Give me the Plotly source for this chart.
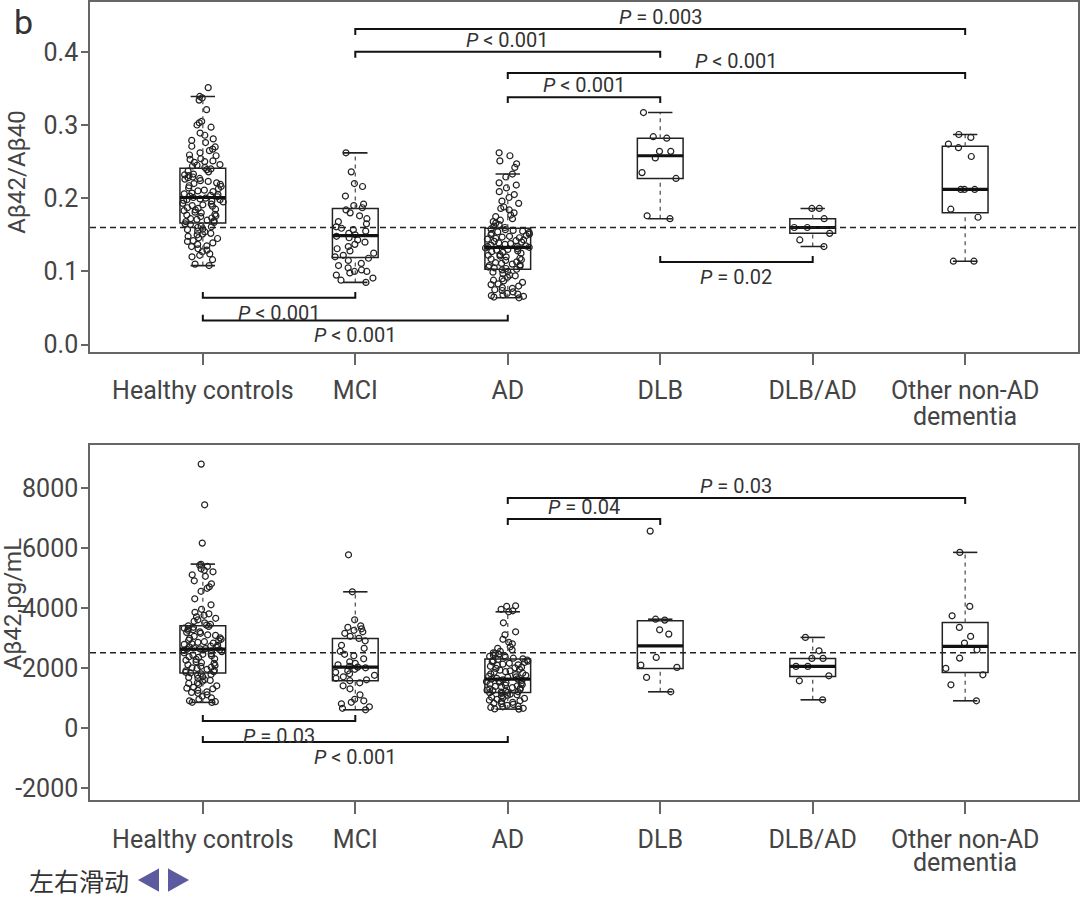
import plotly.graph_objects as go

# ---------------- data ----------------
groups = ["Healthy controls", "MCI", "AD", "DLB", "DLB/AD", "Other non-AD"]
group_second_line = ["", "", "", "", "", "dementia"]

# Panel 1: Abeta42/Abeta40 ratio -- box statistics
ratio_q1 = [0.166, 0.119, 0.103, 0.227, 0.152, 0.180]
ratio_med = [0.201, 0.149, 0.133, 0.258, 0.160, 0.212]
ratio_q3 = [0.241, 0.186, 0.159, 0.282, 0.172, 0.271]
ratio_lo = [0.108, 0.085, 0.064, 0.172, 0.134, 0.114]
ratio_hi = [0.339, 0.262, 0.233, 0.317, 0.186, 0.287]

ratio_hc = [0.351, 0.339, 0.337, 0.334, 0.321, 0.305, 0.303, 0.300, 0.297, 0.289, 0.286, 0.281, 0.279, 0.276,
            0.271, 0.270, 0.267, 0.265, 0.262, 0.259, 0.258, 0.254, 0.253, 0.251, 0.250, 0.249, 0.246, 0.245,
            0.244, 0.242, 0.240, 0.239, 0.237, 0.236, 0.233, 0.232, 0.231, 0.229, 0.228, 0.227, 0.226, 0.224,
            0.223, 0.221, 0.220, 0.219, 0.217, 0.216, 0.214, 0.213, 0.211, 0.210, 0.209, 0.207, 0.206, 0.205,
            0.204, 0.203, 0.202, 0.201, 0.200, 0.199, 0.198, 0.198, 0.197, 0.196, 0.195, 0.193, 0.192, 0.191,
            0.190, 0.189, 0.187, 0.186, 0.185, 0.184, 0.183, 0.181, 0.180, 0.178, 0.177, 0.176, 0.175, 0.173,
            0.172, 0.171, 0.170, 0.169, 0.168, 0.167, 0.165, 0.164, 0.162, 0.161, 0.160, 0.158, 0.157, 0.155,
            0.154, 0.152, 0.151, 0.150, 0.148, 0.146, 0.145, 0.142, 0.141, 0.139, 0.137, 0.135, 0.134, 0.131,
            0.129, 0.127, 0.124, 0.122, 0.120, 0.116, 0.110, 0.108]
ratio_mci = [0.262, 0.236, 0.220, 0.216, 0.203, 0.192, 0.190, 0.187, 0.184, 0.180, 0.176, 0.172, 0.168, 0.165,
             0.161, 0.159, 0.157, 0.155, 0.152, 0.150, 0.148, 0.146, 0.143, 0.140, 0.137, 0.134, 0.131, 0.128,
             0.125, 0.122, 0.120, 0.118, 0.115, 0.111, 0.108, 0.105, 0.102, 0.100, 0.100, 0.098, 0.095, 0.091,
             0.088, 0.085]
ratio_ad = [0.262, 0.258, 0.251, 0.247, 0.242, 0.233, 0.229, 0.221, 0.218, 0.214, 0.209, 0.205, 0.201, 0.196,
            0.193, 0.188, 0.186, 0.184, 0.180, 0.177, 0.175, 0.172, 0.170, 0.168, 0.166, 0.164, 0.162, 0.160,
            0.158, 0.157, 0.156, 0.155, 0.154, 0.153, 0.152, 0.151, 0.150, 0.149, 0.148, 0.147, 0.146, 0.145,
            0.144, 0.143, 0.142, 0.141, 0.140, 0.139, 0.138, 0.137, 0.136, 0.135, 0.134, 0.134, 0.133, 0.132,
            0.131, 0.130, 0.129, 0.128, 0.127, 0.126, 0.125, 0.123, 0.122, 0.121, 0.120, 0.118, 0.117, 0.116,
            0.115, 0.113, 0.112, 0.111, 0.110, 0.109, 0.108, 0.107, 0.106, 0.105, 0.104, 0.103, 0.102, 0.100,
            0.099, 0.097, 0.095, 0.094, 0.092, 0.090, 0.088, 0.087, 0.085, 0.083, 0.082, 0.080, 0.078, 0.077,
            0.075, 0.074, 0.072, 0.070, 0.069, 0.068, 0.067, 0.066, 0.065, 0.064]
ratio_dlb = [0.317, 0.284, 0.282, 0.264, 0.264, 0.255, 0.235, 0.227, 0.176, 0.172]
ratio_dlbad = [0.186, 0.186, 0.172, 0.160, 0.160, 0.152, 0.143, 0.134]
ratio_other = [0.287, 0.283, 0.274, 0.269, 0.257, 0.212, 0.212, 0.212, 0.185, 0.174, 0.114, 0.114]
ratio_points = [ratio_hc, ratio_mci, ratio_ad, ratio_dlb, ratio_dlbad, ratio_other]
ratio_cutoff = 0.16

# Panel 2: Abeta42 pg/mL
ab_q1 = [1823, 1567, 1180, 1980, 1713, 1847]
ab_med = [2623, 2023, 1623, 2733, 2047, 2713]
ab_q3 = [3400, 2980, 2290, 3567, 2313, 3513]
ab_lo = [847, 600, 623, 1200, 933, 900]
ab_hi = [5457, 4533, 3867, 3620, 3013, 5847]

ab_hc = [8790, 7433, 6157, 5450, 5420, 5380, 5300, 5250, 5200, 5100, 5050, 4900, 4800, 4700, 4650, 4550,
         4300, 4100, 3950, 3850, 3800, 3750, 3700, 3650, 3600, 3550, 3500, 3450, 3420, 3400, 3380, 3350,
         3320, 3300, 3270, 3250, 3200, 3180, 3150, 3100, 3080, 3050, 3000, 2980, 2950, 2920, 2900, 2870,
         2850, 2820, 2800, 2780, 2750, 2720, 2700, 2680, 2660, 2640, 2630, 2620, 2600, 2580, 2560, 2540,
         2500, 2470, 2450, 2420, 2400, 2370, 2350, 2300, 2280, 2250, 2200, 2170, 2150, 2100, 2080, 2050,
         2020, 2000, 1980, 1950, 1920, 1900, 1870, 1850, 1830, 1800, 1780, 1750, 1700, 1680, 1650, 1600,
         1580, 1550, 1500, 1480, 1450, 1400, 1350, 1320, 1300, 1250, 1200, 1180, 1150, 1100, 1050, 1000,
         950, 900, 870, 850, 847]
ab_mci = [5767, 4533, 3600, 3400, 3350, 3300, 3250, 3200, 3150, 3050, 2980, 2900, 2750, 2650, 2550, 2450,
          2400, 2300, 2200, 2150, 2100, 2050, 2023, 2000, 1950, 1900, 1850, 1800, 1750, 1700, 1650, 1600,
          1570, 1500, 1400, 1300, 1100, 950, 900, 850, 800, 700, 650, 600]
ab_ad = [4067, 4050, 3950, 3900, 3867, 3500, 3200, 3100, 2950, 2850, 2800, 2700, 2650, 2600, 2550, 2500,
         2480, 2450, 2420, 2400, 2380, 2350, 2320, 2300, 2280, 2260, 2240, 2220, 2200, 2180, 2150, 2120,
         2100, 2080, 2050, 2020, 2000, 1980, 1950, 1920, 1900, 1870, 1850, 1820, 1800, 1770, 1750, 1720,
         1700, 1680, 1650, 1630, 1620, 1600, 1580, 1560, 1540, 1520, 1500, 1480, 1460, 1440, 1420, 1400,
         1380, 1360, 1340, 1320, 1300, 1280, 1260, 1240, 1220, 1200, 1190, 1180, 1170, 1150, 1120, 1100,
         1080, 1050, 1020, 1000, 980, 950, 920, 900, 880, 850, 820, 800, 780, 750, 720, 700, 680, 650,
         630, 623]
ab_dlb = [6557, 3620, 3590, 3267, 3123, 2346, 2090, 2013, 1680, 1200]
ab_dlbad = [3013, 2567, 2313, 2313, 2047, 2047, 1733, 1567, 933]
ab_other = [5847, 4047, 3733, 3347, 3047, 2823, 2600, 2323, 1980, 1767, 1433, 900]
ab_points = [ab_hc, ab_mci, ab_ad, ab_dlb, ab_dlbad, ab_other]
ab_cutoff = 2500

# significance brackets: (group_a, group_b, level, direction, label)
ratio_brackets = [
    (1, 5, 0.431, "down", "<i>P</i> = 0.003"),
    (1, 3, 0.400, "down", "<i>P</i> < 0.001"),
    (2, 5, 0.371, "down", "<i>P</i> < 0.001"),
    (2, 3, 0.338, "down", "<i>P</i> < 0.001"),
    (3, 4, 0.113, "up", "<i>P</i> = 0.02"),
    (0, 1, 0.064, "up", "<i>P</i> < 0.001"),
    (0, 2, 0.033, "up", "<i>P</i> < 0.001"),
]
ab_brackets = [
    (2, 5, 7657, "down", "<i>P</i> = 0.03"),
    (2, 3, 6957, "down", "<i>P</i> = 0.04"),
    (0, 1, 223, "up", "<i>P</i> = 0.03"),
    (0, 2, -477, "up", "<i>P</i> < 0.001"),
]

# ---------------- figure ----------------
W, H = 1080, 908
HEFF = 901  # effective drawing height observed in the renderer
FONT = "Roboto"
TXT = "#444444"
BOXW = 0.30
CAPW = 0.16

fig = go.Figure()


def add_panel(xa, ya, q1, med, q3, lo, hi, pts):
    for i in range(len(groups)):
        # jittered points (box itself hidden)
        fig.add_trace(go.Box(
            y=pts[i], x=[i] * len(pts[i]), xaxis=xa, yaxis=ya,
            boxpoints="all", jitter=1.0, pointpos=0, width=BOXW,
            fillcolor="rgba(0,0,0,0)", line=dict(color="rgba(0,0,0,0)", width=0),
            marker=dict(symbol="circle-open", size=6, color="#222222",
                        line=dict(width=1.2, color="#222222")),
            showlegend=False, hoverinfo="y"))
        # box
        fig.add_trace(go.Box(
            x=[i], q1=[q1[i]], median=[med[i]], q3=[q3[i]],
            lowerfence=[q1[i]], upperfence=[q3[i]], xaxis=xa, yaxis=ya,
            width=BOXW, boxpoints=False, fillcolor="rgba(0,0,0,0)",
            line=dict(color="#222222", width=1.5), showlegend=False, hoverinfo="skip"))
        # whiskers (dashed)
        fig.add_trace(go.Scatter(
            x=[i, i, None, i, i], y=[lo[i], q1[i], None, q3[i], hi[i]], xaxis=xa, yaxis=ya,
            mode="lines", line=dict(color="#555555", width=1.3, dash="4px,4px"),
            showlegend=False, hoverinfo="skip"))
        # caps
        fig.add_trace(go.Scatter(
            x=[i - CAPW / 2, i + CAPW / 2, None, i - CAPW / 2, i + CAPW / 2],
            y=[lo[i], lo[i], None, hi[i], hi[i]], xaxis=xa, yaxis=ya,
            mode="lines", line=dict(color="#222222", width=1.6),
            showlegend=False, hoverinfo="skip"))
        # median (thick)
        fig.add_trace(go.Scatter(
            x=[i - BOXW / 2, i + BOXW / 2], y=[med[i], med[i]], xaxis=xa, yaxis=ya,
            mode="lines", line=dict(color="#111111", width=3.2),
            showlegend=False, hoverinfo="skip"))


add_panel("x", "y", ratio_q1, ratio_med, ratio_q3, ratio_lo, ratio_hi, ratio_points)
add_panel("x2", "y2", ab_q1, ab_med, ab_q3, ab_lo, ab_hi, ab_points)

shapes = []
annotations = []


def add_brackets(xr, yr, brackets, tick):
    for a, b, lvl, d, lab in brackets:
        end = lvl - tick if d == "down" else lvl + tick
        shapes.append(dict(type="path", xref=xr, yref=yr,
                           path=f"M {a} {end} L {a} {lvl} L {b} {lvl} L {b} {end}",
                           line=dict(color="#111111", width=2)))
        annotations.append(dict(x=(a + b) / 2, y=lvl, xref=xr, yref=yr, text=lab,
                                showarrow=False, xanchor="center",
                                font=dict(family=FONT, size=20, color="#333333"),
                                yanchor="bottom" if d == "down" else "top",
                                yshift=-2 if d == "down" else -1))


add_brackets("x", "y", ratio_brackets, 0.008)
add_brackets("x2", "y2", ab_brackets, 200)

# cutoff lines
for xr, yr, v in [("x domain", "y", ratio_cutoff), ("x2 domain", "y2", ab_cutoff)]:
    shapes.append(dict(type="line", xref=xr, yref=yr, x0=0, x1=1, y0=v, y1=v,
                       line=dict(color="#222222", width=1.5, dash="6px,4px")))


def px(x):
    return x / W


def py(y):
    return 1 - y / HEFF


# second line of the multi-line category label
for xr, ypix in [("x", 417), ("x2", 863)]:
    for i, t in enumerate(group_second_line):
        if t:
            annotations.append(dict(x=i, y=py(ypix), xref=xr, yref="paper", text=t,
                                    showarrow=False, xanchor="center", yanchor="middle",
                                    font=dict(family=FONT, size=25, color=TXT)))

# purple triangles
tri_col = "#5d5b9f"
shapes.append(dict(type="path", xref="paper", yref="paper", fillcolor=tri_col, line=dict(color=tri_col, width=2),
                   path=f"M {px(158)} {py(871)} L {px(140)} {py(881)} L {px(158)} {py(891)} Z"))
shapes.append(dict(type="path", xref="paper", yref="paper", fillcolor=tri_col, line=dict(color=tri_col, width=2),
                   path=f"M {px(169)} {py(871)} L {px(187)} {py(881)} L {px(169)} {py(891)} Z"))

annotations += [
    dict(x=px(23), y=py(22), xref="paper", yref="paper", text="b", showarrow=False,
         xanchor="center", yanchor="middle", font=dict(family=FONT, size=34, color="#333333")),
    dict(x=px(17), y=py(172), xref="paper", yref="paper", text="Aβ42/Aβ40", textangle=-90,
         xanchor="center", yanchor="middle",
         showarrow=False, font=dict(family=FONT, size=24, color=TXT)),
    dict(x=px(13), y=py(605), xref="paper", yref="paper", text="Aβ42,pg/mL", textangle=-90,
         xanchor="center", yanchor="middle",
         showarrow=False, font=dict(family=FONT, size=24, color=TXT)),
    dict(x=px(27), y=py(881), xref="paper", yref="paper", text="左右滑动", xanchor="left",
         yanchor="middle",
         showarrow=False, font=dict(family="Noto Sans CJK SC", size=25, color="#333333")),
]

xaxis_common = dict(range=[-0.74, 5.74], tickvals=list(range(6)), ticktext=groups,
                    showline=True, mirror=True, linecolor="#666666", linewidth=1.5,
                    ticks="outside", ticklen=12, tickcolor="#666666", tickwidth=1.5,
                    showgrid=False, zeroline=False, ticklabelstandoff=4,
                    tickfont=dict(family=FONT, size=25, color=TXT))
yaxis_common = dict(showline=True, mirror=True, linecolor="#666666", linewidth=1.5,
                    ticks="outside", ticklen=7, tickcolor="#666666", tickwidth=1.5,
                    showgrid=False, zeroline=False, ticklabelstandoff=-2,
                    tickfont=dict(family=FONT, size=25, color=TXT))

fig.update_layout(
    width=W, height=H, margin=dict(l=0, r=0, t=0, b=0),
    paper_bgcolor="white", plot_bgcolor="white", boxmode="overlay", showlegend=False,
    xaxis=dict(domain=[px(90), px(1078)], anchor="y", **xaxis_common),
    yaxis=dict(domain=[py(352), py(2)], anchor="x", range=[-0.0095, 0.468],
               tickvals=[0, 0.1, 0.2, 0.3, 0.4], ticktext=["0.0", "0.1", "0.2", "0.3", "0.4"],
               **yaxis_common),
    xaxis2=dict(domain=[px(90), px(1078)], anchor="y2", **xaxis_common),
    yaxis2=dict(domain=[py(801), py(445)], anchor="x2", range=[-2410, 9443],
                tickvals=[-2000, 0, 2000, 4000, 6000, 8000],
                ticktext=["-2000", "0", "2000", "4000", "6000", "8000"], **yaxis_common),
    shapes=shapes, annotations=annotations,
)

fig.write_html("out.html", config={"displayModeBar": False},
               post_script="document.body.style.margin='0';document.body.style.overflow='hidden';")
